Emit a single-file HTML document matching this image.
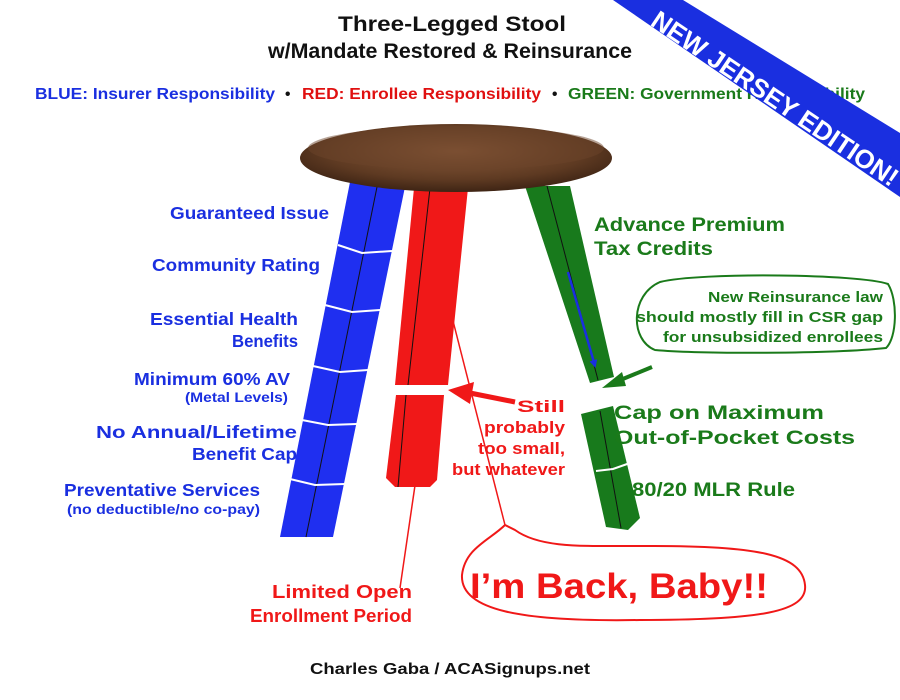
<!DOCTYPE html>
<html><head><meta charset="utf-8"><style>
html,body{margin:0;padding:0;background:#fff}
svg{display:block}
text{font-family:"Liberation Sans",Arial,sans-serif;font-weight:bold}
</style></head><body>
<svg width="900" height="700" viewBox="0 0 900 700" xmlns="http://www.w3.org/2000/svg">
<defs>
<radialGradient id="wood" cx="50%" cy="40%" r="60%">
<stop offset="0" stop-color="#8a5a3a"/><stop offset="0.7" stop-color="#5e3a22"/><stop offset="1" stop-color="#3e2414"/>
</radialGradient>
<marker id="ab" markerWidth="8" markerHeight="8" refX="6" refY="4" orient="auto" markerUnits="userSpaceOnUse"><path d="M0,0 L8,4 L0,8 z" fill="#1a2fe0"/></marker>
</defs>
<text x="338" y="31" font-size="21" fill="#111" textLength="228" lengthAdjust="spacingAndGlyphs">Three-Legged Stool</text>
<text x="268" y="58" font-size="21" fill="#111" textLength="364" lengthAdjust="spacingAndGlyphs">w/Mandate Restored &amp; Reinsurance</text>
<g font-size="15.5">
<text x="35" y="99" fill="#1a2fe0" textLength="240" lengthAdjust="spacingAndGlyphs">BLUE: Insurer Responsibility</text>
<text x="285" y="99" fill="#111">•</text>
<text x="302" y="99" fill="#e01010" textLength="239" lengthAdjust="spacingAndGlyphs">RED: Enrollee Responsibility</text>
<text x="552" y="99" fill="#111">•</text>
<text x="568" y="99" fill="#1a7a1a" textLength="297" lengthAdjust="spacingAndGlyphs">GREEN: Government Responsibility</text>
</g>

<!-- legs -->
<polygon points="350,182 406,182 333,537 280,537" fill="#1f2ff0"/>
<line x1="378" y1="182" x2="306" y2="537" stroke="#111" stroke-width="1"/>
<g stroke="#fff" stroke-width="2" fill="none">
<polyline points="338,245 362,253 392,251"/><polyline points="325,305 352,312 380,310"/><polyline points="313,366 340,372 368,370"/><polyline points="302,420 328,425 357,424"/><polyline points="290,479 315,485 345,484"/>
</g>
<polygon points="414,188 468,188 448,385 395,385" fill="#f01818"/>
<line x1="430" y1="188" x2="408" y2="385" stroke="#111" stroke-width="1"/>
<polygon points="396,395 444,395 437,480 430,487 395,487 386,478" fill="#f01818"/>
<line x1="406" y1="395" x2="398" y2="487" stroke="#111" stroke-width="1"/>
<polygon points="525,186 570,186 614,377 590,383" fill="#187a1c"/>
<line x1="547" y1="186" x2="598" y2="380" stroke="#111" stroke-width="1"/>
<polygon points="581,414 613,406 640,518 628,530 606,527" fill="#187a1c"/>
<line x1="600" y1="411" x2="621" y2="528" stroke="#111" stroke-width="1"/>
<polyline points="596,471 613,469 630,463" stroke="#fff" stroke-width="2" fill="none"/>
<line x1="568" y1="272" x2="595" y2="366" stroke="#1a2fe0" stroke-width="2.5" marker-end="url(#ab)"/>

<!-- seat -->
<ellipse cx="456" cy="158" rx="156" ry="34" fill="url(#wood)"/>
<ellipse cx="456" cy="148" rx="148" ry="22" fill="#6b4429" opacity="0.5"/>

<!-- left labels -->
<g fill="#1a2fe0" font-size="17.5">
<text x="170" y="219" textLength="159" lengthAdjust="spacingAndGlyphs">Guaranteed Issue</text>
<text x="152" y="271" textLength="168" lengthAdjust="spacingAndGlyphs">Community Rating</text>
<text x="150" y="325" textLength="148" lengthAdjust="spacingAndGlyphs">Essential Health</text>
<text x="232" y="347" textLength="66" lengthAdjust="spacingAndGlyphs">Benefits</text>
<text x="134" y="385" textLength="156" lengthAdjust="spacingAndGlyphs">Minimum 60% AV</text>
<text x="185" y="402" font-size="13.5" textLength="103" lengthAdjust="spacingAndGlyphs">(Metal Levels)</text>
<text x="96" y="438" textLength="201" lengthAdjust="spacingAndGlyphs">No Annual/Lifetime</text>
<text x="192" y="460" textLength="105" lengthAdjust="spacingAndGlyphs">Benefit Cap</text>
<text x="64" y="496" textLength="196" lengthAdjust="spacingAndGlyphs">Preventative Services</text>
<text x="67" y="514" font-size="13.5" textLength="193" lengthAdjust="spacingAndGlyphs">(no deductible/no co-pay)</text>
</g>

<!-- green -->
<g fill="#1a7a1a" font-size="19">
<text x="594" y="231" textLength="191" lengthAdjust="spacingAndGlyphs">Advance Premium</text>
<text x="594" y="255" textLength="119" lengthAdjust="spacingAndGlyphs">Tax Credits</text>
<text x="614" y="419" textLength="210" lengthAdjust="spacingAndGlyphs">Cap on Maximum</text>
<text x="614" y="444" textLength="241" lengthAdjust="spacingAndGlyphs">Out-of-Pocket Costs</text>
<text x="632" y="496" textLength="163" lengthAdjust="spacingAndGlyphs">80/20 MLR Rule</text>
</g>
<path d="M660,282 C700,272 860,274 888,284 C898,300 897,338 886,348 C830,354 700,354 655,350 C630,340 630,295 660,282 Z" fill="#fff" stroke="#1a7a1a" stroke-width="2"/>
<g fill="#1a7a1a" font-size="14.5">
<text x="708" y="302" textLength="175" lengthAdjust="spacingAndGlyphs">New Reinsurance law</text>
<text x="636" y="322" textLength="247" lengthAdjust="spacingAndGlyphs">should mostly fill in CSR gap</text>
<text x="663" y="342" textLength="220" lengthAdjust="spacingAndGlyphs">for unsubsidized enrollees</text>
</g>
<line x1="652" y1="367" x2="618" y2="381" stroke="#1a7a1a" stroke-width="4"/>
<polygon points="602,388 622,372 626,386" fill="#1a7a1a"/>

<!-- red annotations -->
<line x1="438" y1="262" x2="505" y2="525" stroke="#f01818" stroke-width="1.5"/>
<line x1="419" y1="458" x2="400" y2="588" stroke="#f01818" stroke-width="1.5"/>
<line x1="515" y1="402" x2="470" y2="393" stroke="#f01818" stroke-width="5"/>
<polygon points="448,390 474,382 470,404" fill="#f01818"/>
<g fill="#f01818" font-size="16.5">
<text x="517" y="412" textLength="48" lengthAdjust="spacingAndGlyphs">Still</text>
<text x="484" y="433" textLength="81" lengthAdjust="spacingAndGlyphs">probably</text>
<text x="478" y="454" textLength="87" lengthAdjust="spacingAndGlyphs">too small,</text>
<text x="452" y="475" textLength="113" lengthAdjust="spacingAndGlyphs">but whatever</text>
</g>
<g fill="#f01818" font-size="18.5">
<text x="272" y="598" textLength="140" lengthAdjust="spacingAndGlyphs">Limited Open</text>
<text x="250" y="622" textLength="162" lengthAdjust="spacingAndGlyphs">Enrollment Period</text>
</g>
<path d="M505,525 C490,540 465,548 462,575 C460,610 520,622 640,620 C760,620 808,612 805,585 C802,555 760,545 640,546 C580,546 540,548 515,530 Z" fill="#fff" stroke="#f01818" stroke-width="2"/>
<text x="470" y="598" font-size="35" fill="#f01818" textLength="298" lengthAdjust="spacingAndGlyphs">I’m Back, Baby!!</text>

<!-- banner -->
<polygon points="613,0 683,0 900,133 900,197" fill="#1a2fe0"/>
<text x="0" y="0" font-size="26" fill="#fff" text-anchor="middle" transform="translate(770,106) rotate(34)">NEW JERSEY EDITION!</text>

<text x="310" y="674" font-size="16" fill="#111" textLength="280" lengthAdjust="spacingAndGlyphs">Charles Gaba / ACASignups.net</text>
</svg>
</body></html>
